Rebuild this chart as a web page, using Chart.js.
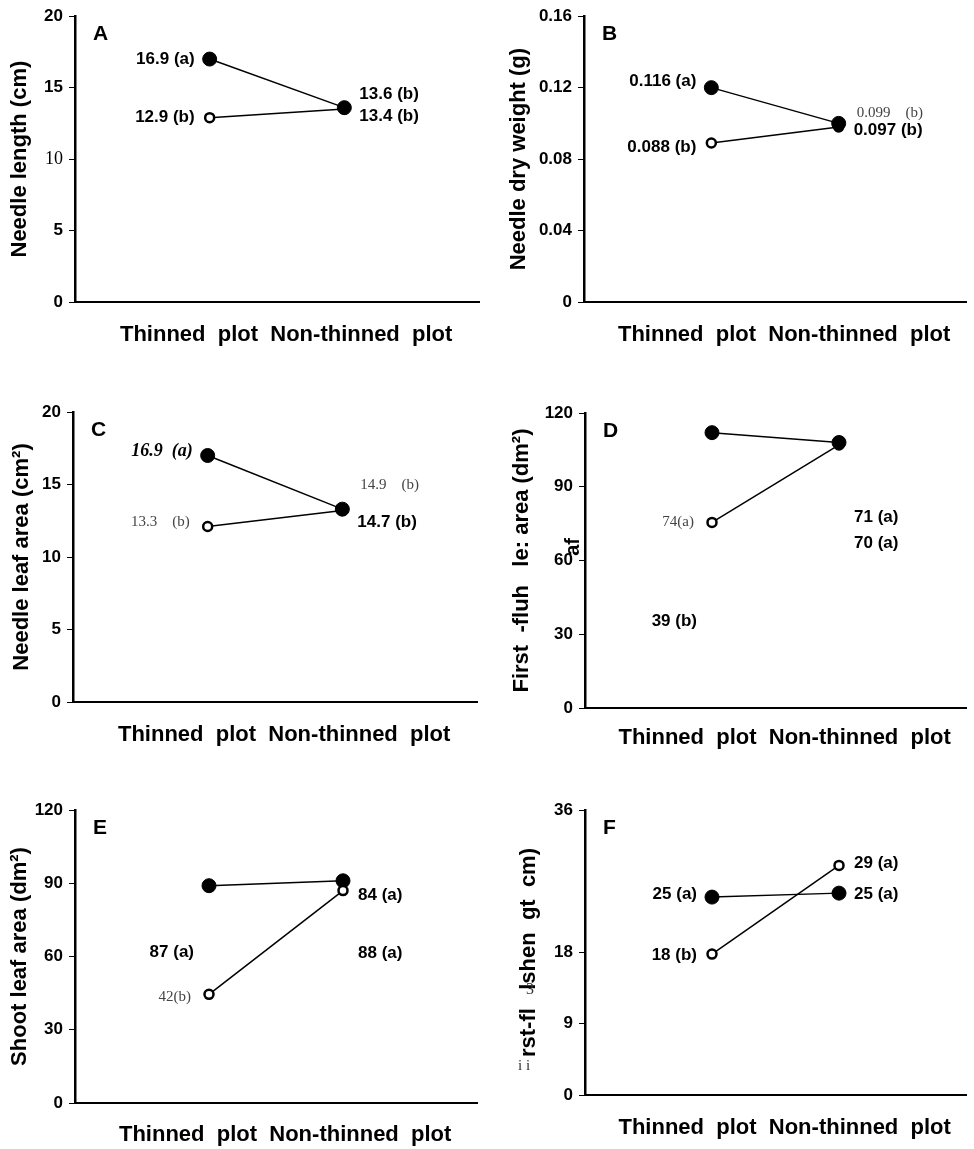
<!DOCTYPE html>
<html>
<head>
<meta charset="utf-8">
<script src="https://cdn.jsdelivr.net/npm/chart.js@4.4.1/dist/chart.umd.min.js"></script>
<style>
  body { margin: 0; background: #fff; }
  #page { position: relative; width: 974px; height: 1149px; }
  canvas { position: absolute; }
</style>
</head>
<body>
<div id="page">
  <canvas id="chartA" width="487" height="365" style="left:0;top:0"></canvas>
  <canvas id="chartB" width="487" height="365" style="left:487px;top:0"></canvas>
  <canvas id="chartC" width="487" height="395" style="left:0;top:365px"></canvas>
  <canvas id="chartD" width="487" height="395" style="left:487px;top:365px"></canvas>
  <canvas id="chartE" width="487" height="389" style="left:0;top:760px"></canvas>
  <canvas id="chartF" width="487" height="389" style="left:487px;top:760px"></canvas>
</div>
<script>
const categories = ['Thinned plot', 'Non-thinned plot'];

// filled circles / open circles, [thinned, non-thinned]
const lengthFilled = [17.0, 13.6];
const lengthOpen = [12.9, 13.5];
const lengthTicks = [0, 5, 10, 15, 20];

const dryWeightFilled = [0.120, 0.100];
const dryWeightOpen = [0.089, 0.098];
const dryWeightTicks = [0, 0.04, 0.08, 0.12, 0.16];

const needleAreaFilled = [17.0, 13.3];
const needleAreaOpen = [12.1, 13.2];
const needleAreaTicks = [0, 5, 10, 15, 20];

const flushAreaFilled = [112, 108];
const flushAreaOpen = [75.5, 107];
const flushAreaTicks = [0, 30, 60, 90, 120];

const shootAreaFilled = [89, 91];
const shootAreaOpen = [44.5, 87];
const shootAreaTicks = [0, 30, 60, 90, 120];

const flushLengthFilled = [25.0, 25.5];
const flushLengthOpen = [17.8, 29.0];
const flushLengthTicks = [0, 9, 18, 36];

// value labels: [text, category (1 = thinned, 2 = non-thinned), height in axis units, style]
const lengthNotes = [
    ['16.9 (a)', 1, 17.0, 'bold'],
    ['12.9 (b)', 1, 12.95, 'bold'],
    ['13.6 (b)', 2, 14.55, 'bold'],
    ['13.4 (b)', 2, 13.0, 'bold']
];
const dryWeightNotes = [
    ['0.116 (a)', 1, 0.1238, 'bold'],
    ['0.088 (b)', 1, 0.0864, 'bold'],
    ['0.099    (b)', 2, 0.1059, 'serif'],
    ['0.097 (b)', 2, 0.0959, 'bold']
];
const needleAreaNotes = [
    ['16.9  (a)', 1, 17.3, 'italic'],
    ['13.3    (b)', 1, 12.4, 'serif'],
    ['14.9    (b)', 2, 14.97, 'serif'],
    ['14.7 (b)', 2, 12.4, 'bold']
];
const flushAreaNotes = [
    ['74(a)', 1, 75.7, 'serif'],
    ['39 (b)', 1, 35.4, 'bold'],
    ['71 (a)', 2, 77.7, 'bold'],
    ['70 (a)', 2, 67.1, 'bold']
];
const shootAreaNotes = [
    ['87 (a)', 1, 61.8, 'bold'],
    ['42(b)', 1, 43.4, 'serif'],
    ['84 (a)', 2, 85.2, 'bold'],
    ['88 (a)', 2, 61.4, 'bold']
];
const flushLengthNotes = [
    ['25 (a)', 1, 25.3, 'bold'],
    ['18 (b)', 1, 17.6, 'bold'],
    ['29 (a)', 2, 29.3, 'bold'],
    ['25 (a)', 2, 25.3, 'bold']
];

const SANS = '"Liberation Sans", Arial, sans-serif';
const SERIF = '"Liberation Serif", "Times New Roman", serif';

const noteStyles = {
    bold: { font: 'bold 17px ' + SANS, color: '#000', gap: 15 },
    serif: { font: '15px ' + SERIF, color: '#444', gap: 18 },
    italic: { font: 'italic bold 18px ' + SERIF, color: '#000', gap: 15 }
};

// draws the panel letter, the value labels and the stray scan marks
const notesPlugin = {
    id: 'notes',
    afterDatasetsDraw(chart, args, opts) {
        const { ctx, chartArea } = chart;
        const x = chart.scales.x;
        const y = chart.scales.y;
        ctx.save();
        ctx.textBaseline = 'middle';
        ctx.fillStyle = '#000';
        ctx.textAlign = 'left';
        ctx.font = 'bold 21px ' + SANS;
        ctx.fillText(opts.letter, chartArea.left + 18, chartArea.top + 18);

        opts.notes.forEach(([text, slot, value, style]) => {
            const st = noteStyles[style];
            ctx.font = st.font;
            ctx.fillStyle = st.color;
            const px = x.getPixelForValue(slot);
            const py = y.getPixelForValue(value);
            if (slot === 1) {
                ctx.textAlign = 'right';
                ctx.fillText(text, px - st.gap, py);
            } else {
                ctx.textAlign = 'left';
                ctx.fillText(text, px + st.gap, py);
            }
        });

        (opts.extras || []).forEach(e => {
            ctx.save();
            ctx.font = e.font;
            ctx.fillStyle = e.color || '#000';
            ctx.textAlign = 'center';
            ctx.translate(chartArea.left + e.dx, y.getPixelForValue(e.value));
            if (e.rotate) ctx.rotate(-Math.PI / 2);
            ctx.fillText(e.text, 0, 0);
            ctx.restore();
        });
        ctx.restore();
    }
};

function makePanel(id, p) {
    const slots = ['', ...categories, ''];
    const filledSet = {
        data: [null, ...p.filled, null],
        borderColor: '#000',
        borderWidth: 1.5,
        pointRadius: 7,
        pointBackgroundColor: '#000',
        pointBorderColor: '#000',
        pointBorderWidth: 1
    };
    const openSet = {
        data: [null, ...p.open, null],
        borderColor: '#000',
        borderWidth: 1.5,
        pointRadius: 4.5,
        pointBackgroundColor: '#fff',
        pointBorderColor: '#000',
        pointBorderWidth: 2.5
    };
    // first dataset is drawn on top
    const datasets = p.openOnTop ? [openSet, filledSet] : [filledSet, openSet];

    return new Chart(document.getElementById(id), {
        type: 'line',
        data: { labels: slots, datasets: datasets },
        plugins: [notesPlugin],
        options: {
            responsive: false,
            animation: false,
            events: [],
            layout: { padding: { left: 0, right: p.right, top: p.top, bottom: 0 } },
            plugins: {
                legend: { display: false },
                tooltip: { enabled: false },
                notes: { letter: p.letter, notes: p.notes, extras: p.extras }
            },
            scales: {
                x: {
                    offset: false,
                    ticks: { display: false },
                    grid: { display: false },
                    border: { display: true, color: '#000', width: 2 },
                    title: {
                        display: true,
                        text: '   ' + categories.map(c => c.replace(' ', '  ')).join('  '),
                        font: { family: SANS, size: 22, weight: 'bold' },
                        color: '#000',
                        padding: { top: 0, bottom: p.xTitlePad }
                    },
                    afterFit: (scale) => { scale.height = p.xHeight; }
                },
                y: {
                    min: 0,
                    max: p.ticks[p.ticks.length - 1],
                    afterBuildTicks: (scale) => { scale.ticks = p.ticks.map(v => ({ value: v })); },
                    ticks: {
                        color: '#000',
                        padding: 6,
                        font: (ctx) => (ctx.tick && p.serifTick === ctx.tick.value)
                            ? { family: SERIF, size: 18, weight: 'normal' }
                            : { family: SANS, size: 17, weight: 'bold' },
                        callback: (v) => String(v)
                    },
                    grid: {
                        display: true,
                        drawOnChartArea: false,
                        drawTicks: true,
                        tickLength: 6,
                        color: '#000',
                        lineWidth: 1
                    },
                    border: { display: true, color: '#000', width: 2.5 },
                    title: {
                        display: true,
                        text: p.yTitle,
                        font: { family: SANS, size: 22, weight: 'bold' },
                        color: '#000',
                        padding: { top: p.yTitlePad, bottom: 0 }
                    },
                    afterFit: (scale) => { scale.width = p.yWidth; }
                }
            }
        }
    });
}

makePanel('chartA', {
    letter: 'A', filled: lengthFilled, open: lengthOpen, ticks: lengthTicks, notes: lengthNotes,
    yTitle: 'Needle length (cm)', serifTick: 10,
    top: 15, right: 7, yWidth: 75, xHeight: 63, xTitlePad: 17, yTitlePad: 7
});
makePanel('chartB', {
    letter: 'B', filled: dryWeightFilled, open: dryWeightOpen, ticks: dryWeightTicks, notes: dryWeightNotes,
    yTitle: 'Needle dry weight (g)',
    top: 15, right: 0, yWidth: 97, xHeight: 63, xTitlePad: 17, yTitlePad: 19
});
makePanel('chartC', {
    letter: 'C', filled: needleAreaFilled, open: needleAreaOpen, ticks: needleAreaTicks, notes: needleAreaNotes,
    yTitle: 'Needle leaf area (cm²)',
    top: 47, right: 10, yWidth: 73, xHeight: 58, xTitlePad: 12, yTitlePad: 9
});
makePanel('chartD', {
    letter: 'D', filled: flushAreaFilled, open: flushAreaOpen, ticks: flushAreaTicks, notes: flushAreaNotes,
    yTitle: 'First  -fluh   le: area (dm²)',
    extras: [{ text: 'af', dx: -12, value: 65.5, font: 'bold 20px ' + SANS, rotate: true }],
    top: 48, right: 0, yWidth: 98, xHeight: 52, xTitlePad: 9, yTitlePad: 22
});
makePanel('chartE', {
    letter: 'E', filled: shootAreaFilled, open: shootAreaOpen, ticks: shootAreaTicks, notes: shootAreaNotes,
    yTitle: 'Shoot leaf area (dm²)', openOnTop: true,
    top: 50, right: 10, yWidth: 75, xHeight: 46, xTitlePad: 1, yTitlePad: 7
});
makePanel('chartF', {
    letter: 'F', filled: flushLengthFilled, open: flushLengthOpen, ticks: flushLengthTicks, notes: flushLengthNotes,
    yTitle: 'rst-fl   lshen  gt  cm)',
    extras: [
        { text: '3', dx: -55, value: 13.3, font: '16px ' + SERIF, color: '#333' },
        { text: 'i i', dx: -61, value: 3.7, font: '15px ' + SERIF, color: '#333' }
    ],
    top: 50, right: 0, yWidth: 98, xHeight: 54, xTitlePad: 8, yTitlePad: 29
});
</script>
</body>
</html>
